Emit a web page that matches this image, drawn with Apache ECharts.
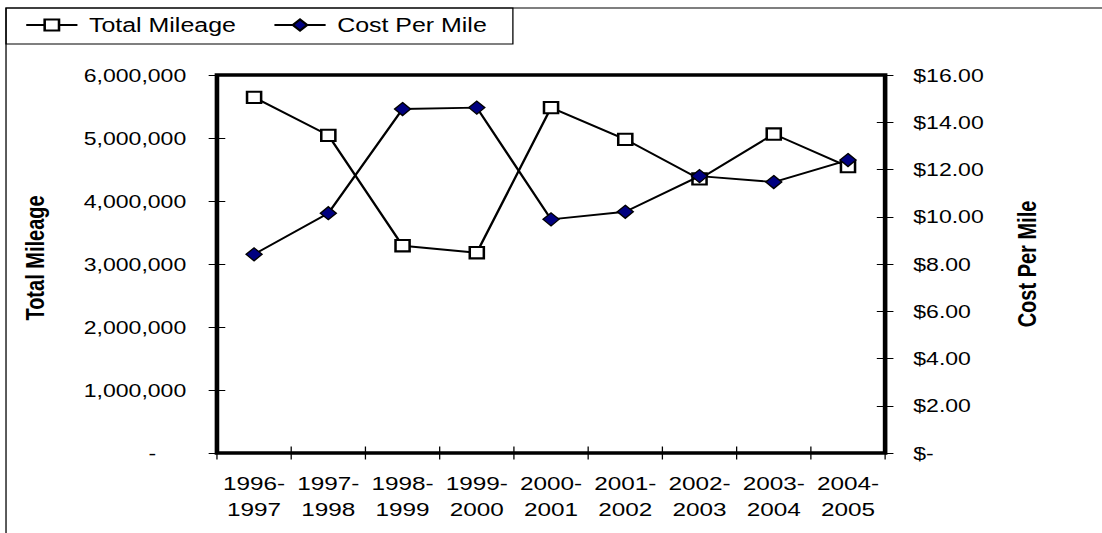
<!DOCTYPE html>
<html>
<head>
<meta charset="utf-8">
<script src="https://cdn.jsdelivr.net/npm/echarts@6/dist/echarts.min.js"></script>
<style>
  html, body { margin: 0; padding: 0; background: #fff; overflow: hidden; }
  /* the chart is laid out narrower and widened horizontally, giving the wide lettering and markers */
  #chart { width: 861px; height: 533px; transform: scaleX(1.28); transform-origin: 0 0; }
</style>
</head>
<body>
<div id="chart"></div>
<script>
// Fiscal periods on the category axis
const periods = ['1996-\n1997', '1997-\n1998', '1998-\n1999', '1999-\n2000', '2000-\n2001',
                 '2001-\n2002', '2002-\n2003', '2003-\n2004', '2004-\n2005'];

// Miles driven per period (left axis)
const totalMileage = [5646000, 5043000, 3290000, 3179000, 5481000, 4979000, 4350000, 5063000, 4545000];

// Dollars per mile per period (right axis)
const costPerMile = [8.41, 10.15, 14.56, 14.62, 9.89, 10.21, 11.72, 11.47, 12.40];

// Axis ranges
const mileageRange = [0, 6000000, 1000000];
const costRange = [0, 16, 2];

const FONT = "'Liberation Sans', Arial, sans-serif";

const fmtMileage = v => v === 0 ? '{z|-}' : v.toLocaleString('en-US');
const fmtCost = v => v === 0 ? '$-' : '$' + v.toFixed(2);

const chart = echarts.init(document.getElementById('chart'), null, { renderer: 'svg' });

const tickStyle = { color: '#000', width: 1 };

chart.setOption({
  backgroundColor: '#fff',
  animation: false,
  textStyle: { fontFamily: FONT, color: '#000' },
  grid: {
    left: 169.5, right: 169.5, top: 75, bottom: 80,
    show: true, borderColor: '#000', borderWidth: 3.6, backgroundColor: 'transparent'
  },
  legend: {
    left: 19.5, top: 15, padding: 0,
    itemWidth: 40, itemHeight: 14, itemGap: 29,
    textStyle: { fontFamily: FONT, fontSize: 19.5, color: '#000', padding: [0, 0, 0, 4] },
    data: ['Total Mileage', 'Cost Per Mile']
  },
  graphic: [
    // chart-area frame
    { type: 'rect', shape: { x: 4.7, y: 8, width: 2000, height: 2000 },
      style: { fill: 'none', stroke: '#000', lineWidth: 1 }, silent: true, z: -1 },
    // legend box
    { type: 'rect', shape: { x: 4.7, y: 8, width: 396, height: 36 },
      style: { fill: 'none', stroke: '#000', lineWidth: 1 }, silent: true, z: -1 }
  ],
  xAxis: [
    {
      type: 'category', data: periods, position: 'bottom', boundaryGap: true,
      axisLine: { show: false },
      axisTick: { show: true, inside: false, length: 6.5, lineStyle: tickStyle },
      axisLabel: { fontFamily: FONT, fontSize: 19, lineHeight: 26, color: '#000', margin: 17, interval: 0 }
    },
    {
      type: 'category', data: periods, position: 'bottom', boundaryGap: true,
      axisLine: { show: false },
      axisTick: { show: true, inside: true, length: 6.5, lineStyle: tickStyle },
      axisLabel: { show: false }
    }
  ],
  yAxis: [
    {
      type: 'value', position: 'left',
      min: mileageRange[0], max: mileageRange[1], interval: mileageRange[2],
      splitLine: { show: false }, axisLine: { show: false },
      axisTick: { show: true, inside: false, length: 6.5, lineStyle: tickStyle },
      axisLabel: {
        fontFamily: FONT, fontSize: 18, color: '#000', margin: 24, formatter: fmtMileage,
        rich: { z: { fontFamily: FONT, fontSize: 18, color: '#000', padding: [0, 23.4, 0, 0] } }
      },
      name: 'Total Mileage', nameLocation: 'middle', nameRotate: 90, nameGap: 132,
      nameTextStyle: { fontFamily: FONT, fontSize: 20, fontWeight: 'bold', color: '#000', padding: [0, 0, 0, 12] }
    },
    {
      type: 'value', position: 'right',
      min: costRange[0], max: costRange[1], interval: costRange[2],
      splitLine: { show: false }, axisLine: { show: false },
      axisTick: { show: true, inside: false, length: 6.5, lineStyle: tickStyle },
      axisLabel: { fontFamily: FONT, fontSize: 18, color: '#000', margin: 22, formatter: fmtCost },
      name: 'Cost Per Mile', nameLocation: 'middle', nameRotate: 90, nameGap: 101,
      nameTextStyle: { fontFamily: FONT, fontSize: 20, fontWeight: 'bold', color: '#000' }
    },
    {
      type: 'value', position: 'left',
      min: mileageRange[0], max: mileageRange[1], interval: mileageRange[2],
      splitLine: { show: false }, axisLine: { show: false }, axisLabel: { show: false },
      axisTick: { show: true, inside: true, length: 6.5, lineStyle: tickStyle }
    },
    {
      type: 'value', position: 'right',
      min: costRange[0], max: costRange[1], interval: costRange[2],
      splitLine: { show: false }, axisLine: { show: false }, axisLabel: { show: false },
      axisTick: { show: true, inside: true, length: 6.5, lineStyle: tickStyle }
    }
  ],
  series: [
    {
      name: 'Total Mileage', type: 'line', xAxisIndex: 0, yAxisIndex: 0,
      data: totalMileage,
      symbol: 'rect', symbolSize: [11, 11.3], showAllSymbol: true,
      lineStyle: { color: '#000', width: 1.9 },
      itemStyle: { color: '#fff', borderColor: '#000', borderWidth: 2 },
      z: 3
    },
    {
      name: 'Cost Per Mile', type: 'line', xAxisIndex: 0, yAxisIndex: 1,
      data: costPerMile,
      symbol: 'diamond', symbolSize: [12.5, 13], showAllSymbol: true,
      lineStyle: { color: '#000', width: 1.9 },
      itemStyle: { color: '#000080', borderColor: '#000', borderWidth: 1.2 },
      z: 4
    }
  ]
});
</script>
</body>
</html>
